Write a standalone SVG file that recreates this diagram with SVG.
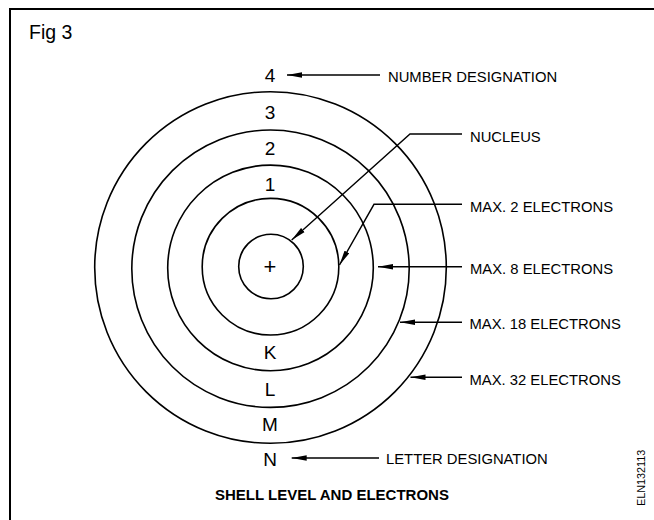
<svg xmlns="http://www.w3.org/2000/svg" width="654" height="520" viewBox="0 0 654 520">
<style>
.frame{fill:none;stroke:#000;stroke-width:2}
.shell{fill:none;stroke:#000;stroke-width:1.6}
.lead{fill:none;stroke:#000;stroke-width:1.4}
.lbl{font-family:"Liberation Sans",Arial,sans-serif;font-size:14.8px;fill:#000}
.sl{font-family:"Liberation Sans",Arial,sans-serif;font-size:19px;fill:#000;text-anchor:middle}
.title{font-family:"Liberation Sans",Arial,sans-serif;font-size:15px;font-weight:bold;fill:#000}
</style>
<defs>
<marker id="ah" markerUnits="userSpaceOnUse" markerWidth="16" markerHeight="6" refX="15" refY="3" orient="auto">
<path d="M0,0.3 L15,3 L0,5.7 z" fill="#000"/>
</marker>
</defs>
<rect width="654" height="520" fill="#fff"/>
<path class="frame" d="M10,520 V9 H654"/>
<text x="29" y="39" font-family="Liberation Sans, Arial, sans-serif" font-size="19.5">Fig 3</text>

<g id="shell-N"><circle class="shell" cx="270.5" cy="267.5" r="175.8"/><text class="sl" x="270" y="466">N</text><text class="sl" x="270" y="82">4</text></g>
<g id="shell-M"><circle class="shell" cx="270.5" cy="268.7" r="138.7"/><text class="sl" x="270" y="431">M</text><text class="sl" x="270" y="119">3</text></g>
<g id="shell-L"><circle class="shell" cx="270.5" cy="267.9" r="102.8"/><text class="sl" x="270" y="395.5">L</text><text class="sl" x="270" y="155">2</text></g>
<g id="shell-K"><circle class="shell" cx="270.5" cy="266.7" r="68.3"/><text class="sl" x="270" y="359">K</text><text class="sl" x="270" y="191">1</text></g>
<g id="nucleus"><circle class="shell" cx="271" cy="266.5" r="32.3"/><text x="270" y="274" font-family="Liberation Sans, Arial, sans-serif" font-size="22" text-anchor="middle">+</text></g>

<g id="connectors">
<path class="lead" d="M380,75 H287" marker-end="url(#ah)"/>
<path class="lead" d="M462,134 H410 L291.7,240" marker-end="url(#ah)"/>
<path class="lead" d="M462,204.3 H374 L339.5,265" marker-end="url(#ah)"/>
<path class="lead" d="M462,266.7 H378" marker-end="url(#ah)"/>
<path class="lead" d="M462,322.3 H400" marker-end="url(#ah)"/>
<path class="lead" d="M462,377.3 H410.5" marker-end="url(#ah)"/>
<path class="lead" d="M379,458 H291.7" marker-end="url(#ah)"/>
</g>

<g id="labels">
<text class="lbl" x="388" y="81.7">NUMBER DESIGNATION</text>
<text class="lbl" x="470" y="141.7">NUCLEUS</text>
<text class="lbl" x="470" y="211.7">MAX. 2 ELECTRONS</text>
<text class="lbl" x="470" y="274">MAX. 8 ELECTRONS</text>
<text class="lbl" x="469.5" y="329.4">MAX. 18 ELECTRONS</text>
<text class="lbl" x="469.5" y="385">MAX. 32 ELECTRONS</text>
<text class="lbl" x="386" y="464">LETTER DESIGNATION</text>
</g>

<text class="title" x="215" y="500">SHELL LEVEL AND ELECTRONS</text>
<text transform="translate(645,506) rotate(-90)" font-family="Liberation Sans, Arial, sans-serif" font-size="10.8" fill="#000">ELN132113</text>
</svg>
